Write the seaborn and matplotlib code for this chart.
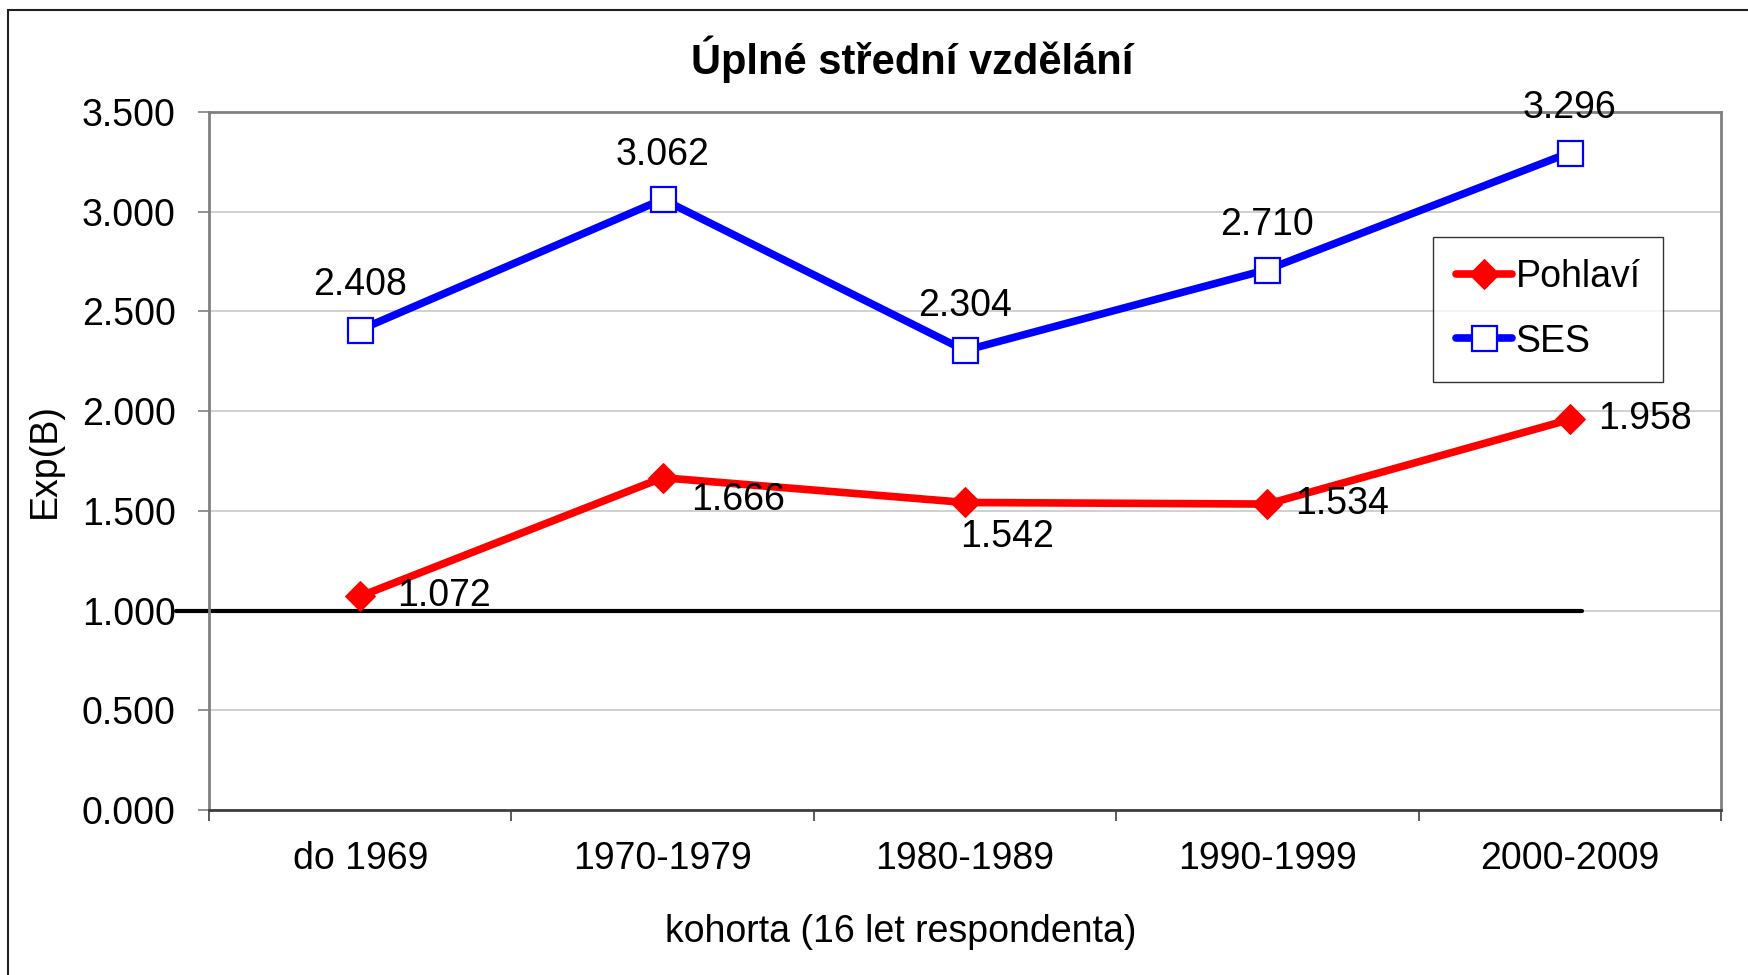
import numpy as np
import pandas as pd
import seaborn as sns
import matplotlib.pyplot as plt
from matplotlib.patches import Rectangle

# data
cohorts = ["do 1969", "1970-1979", "1980-1989", "1990-1999", "2000-2009"]
pohlavi = [1.072, 1.666, 1.542, 1.534, 1.958]
ses = [2.408, 3.062, 2.304, 2.710, 3.296]
reference_value = 1.0

# label offsets (points) for the Pohlaví series, placed like in the Excel original
pohlavi_offsets = [(60, 0), (54, -16), (30, -25), (54, 0), (54, 0)]

sns.set_style("white")
plt.rcParams['font.family'] = ['Liberation Sans', 'DejaVu Sans']
plt.rcParams.update({"text.color": "black", "axes.labelcolor": "black",
                     "xtick.color": "black", "ytick.color": "black"})
FS = 27

fig = plt.figure(figsize=(17.48, 9.75), dpi=100)
ax = fig.add_axes([0.1196, 0.1692, 0.865, 0.7160])

x = np.arange(len(cohorts))
df = pd.DataFrame({"pos": np.concatenate([x, x]),
                   "value": pohlavi + ses,
                   "serie": ["Pohlaví"] * len(x) + ["SES"] * len(x)})

sns.lineplot(data=df[df.serie == "Pohlaví"], x="pos", y="value", ax=ax,
             color="#ff0000", lw=5.5, marker="D", markersize=15,
             markeredgecolor="#ff0000", markerfacecolor="#ff0000",
             label="Pohlaví", zorder=3)
sns.lineplot(data=df[df.serie == "SES"], x="pos", y="value", ax=ax,
             color="#0000ff", lw=5.5, marker="s", markersize=18,
             markeredgecolor="#0000ff", markerfacecolor="white",
             markeredgewidth=1.6, label="SES", zorder=3)

# reference line at Exp(B) = 1
ax.plot([-0.61, 4.04], [reference_value, reference_value], color="black",
        lw=3, clip_on=False, zorder=2)

for xi, v in zip(x, ses):
    ax.annotate(f"{v:.3f}", (xi, v), xytext=(0, 32), textcoords="offset points",
                ha="center", va="center", fontsize=FS)
for xi, v, (dx, dy) in zip(x, pohlavi, pohlavi_offsets):
    ax.annotate(f"{v:.3f}", (xi, v), xytext=(dx, dy), textcoords="offset points",
                ha="center", va="center", fontsize=FS, zorder=4)

ax.set_xlim(-0.5, len(cohorts) - 0.5)
ax.set_ylim(0, 3.5)
ax.set_yticks(np.arange(0, 3.51, 0.5))
ax.set_yticklabels([f"{t:.3f}" for t in np.arange(0, 3.51, 0.5)], fontsize=FS)
ax.set_xticks(x)
ax.set_xticklabels(cohorts, fontsize=FS)
ax.set_xticks(np.arange(-0.5, len(cohorts)), minor=True)
ax.tick_params(axis="x", which="major", length=0, pad=22)
ax.tick_params(axis="x", which="minor", length=8, width=1.2, color="#404040",
               direction="out", bottom=True)
ax.tick_params(axis="y", length=8, width=1.2, color="#808080", pad=16,
               direction="out", left=True)
ax.yaxis.grid(True, color="#c8c8c8", lw=1.2)
ax.set_axisbelow(True)
for side, sp in ax.spines.items():
    sp.set_visible(True)
    sp.set_color("#808080")
    sp.set_linewidth(2)
ax.spines["bottom"].set_color("#404040")

ax.set_xlabel("")
ax.set_ylabel("Exp(B)", fontsize=FS, labelpad=14)

fig.text(0.5217, 1 - 59 / 975, "Úplné střední vzdělání", ha="center", va="center",
         fontsize=30, fontweight="bold")
fig.text(0.5155, 1 - 932 / 975, "kohorta (16 let respondenta)", ha="center",
         va="center", fontsize=FS)

leg = ax.legend(loc="upper left", bbox_to_anchor=(0.8095, 0.821), fontsize=FS,
                frameon=True, fancybox=False, handlelength=1.5,
                handletextpad=0.1, labelspacing=0.75, borderpad=0.6,
                borderaxespad=0)
leg.get_frame().set_edgecolor("black")
leg.get_frame().set_linewidth(1)

# outer chart-area border
fig.patches.append(Rectangle((8 / 1748, -0.1), 1.2, 1.1 - 10 / 975,
                             transform=fig.transFigure, fill=False,
                             edgecolor="#202020", lw=1.5))

fig.savefig("out.png", dpi=100)
